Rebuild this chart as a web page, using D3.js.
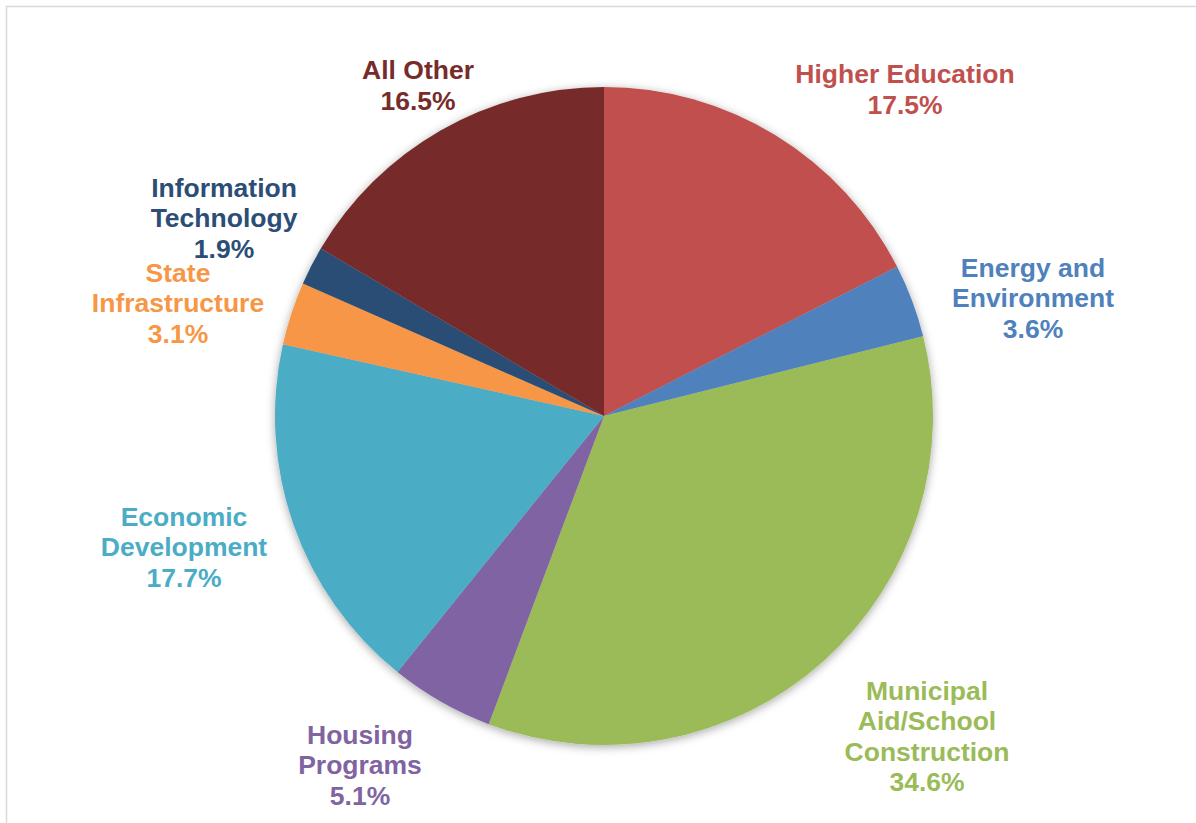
<!DOCTYPE html>
<html>
<head>
<meta charset="utf-8">
<script src="https://cdn.jsdelivr.net/npm/d3@7"></script>
<style>
  html, body { margin: 0; padding: 0; background: #fff; overflow: hidden; }
  svg { display: block; }
  .lbl { font-family: "Liberation Sans", Arial, sans-serif; font-weight: bold; font-size: 26.5px; }
</style>
</head>
<body>
<div id="chart"></div>
<script>
// categories and shares (percent), clockwise from 12 o'clock
const categories = ["Higher Education", "Energy and Environment", "Municipal Aid/School Construction",
    "Housing Programs", "Economic Development", "State Infrastructure", "Information Technology", "All Other"];
const shares = [17.5, 3.6, 34.6, 5.1, 17.7, 3.1, 1.9, 16.5];
// how each category name is wrapped in its label
const labelLines = [
    ["Higher Education"],
    ["Energy and", "Environment"],
    ["Municipal", "Aid/School", "Construction"],
    ["Housing", "Programs"],
    ["Economic", "Development"],
    ["State", "Infrastructure"],
    ["Information", "Technology"],
    ["All Other"]
];
const colors = ["#C0504D", "#4F81BD", "#9BBB59", "#8064A2", "#4BACC6", "#F79646", "#2C4D75", "#772C2A"];

document.addEventListener('DOMContentLoaded', function() {
    const width = 1196;
    const height = 823;
    const cx = 604, cy = 416, radius = 329;
    const lineH = 30.5;

    // label block centres, relative to pie centre
    const labelOffsets = [[301, -327], [429, -118], [323, 320], [-244, 349],
        [-420, 131], [-426, -113], [-380, -198], [-186, -331]];

    const svg = d3.select("#chart").append("svg")
        .attr("width", width)
        .attr("height", height);

    // outer chart frame (runs off the right/bottom edge)
    svg.append("rect")
        .attr("x", 6.5).attr("y", 6.5)
        .attr("width", 1210).attr("height", 840)
        .attr("fill", "#fff")
        .attr("stroke", "#d9d9d9")
        .attr("stroke-width", 1.5);

    const defs = svg.append("defs");
    const f = defs.append("filter").attr("id", "shadow")
        .attr("x", "-10%").attr("y", "-10%").attr("width", "120%").attr("height", "120%");
    f.append("feDropShadow")
        .attr("dx", 0).attr("dy", 2)
        .attr("stdDeviation", 5)
        .attr("flood-color", "#000")
        .attr("flood-opacity", 0.35);

    const data = categories.map((c, i) => ({ name: c, value: shares[i], i: i }));

    const pie = d3.pie().sort(null).value(d => d.value);
    const arc = d3.arc().innerRadius(0).outerRadius(radius);

    const g = svg.append("g").attr("transform", `translate(${cx},${cy})`);

    g.append("g").attr("filter", "url(#shadow)")
        .selectAll("path")
        .data(pie(data))
        .enter().append("path")
        .attr("d", arc)
        .attr("fill", d => colors[d.data.i]);

    // labels
    const labels = g.selectAll(".lbl")
        .data(data)
        .enter().append("text")
        .attr("class", "lbl")
        .attr("text-anchor", "middle")
        .attr("fill", d => colors[d.i]);

    labels.each(function(d) {
        const lines = labelLines[d.i].concat([d3.format(".1f")(d.value) + "%"]);
        const [ox, oy] = labelOffsets[d.i];
        const n = lines.length;
        d3.select(this).selectAll("tspan")
            .data(lines)
            .enter().append("tspan")
            .attr("x", ox)
            .attr("y", (t, k) => oy + (k - (n - 1) / 2) * lineH)
            .attr("dy", "0.35em")
            .text(t => t);
    });
});
</script>
</body>
</html>
